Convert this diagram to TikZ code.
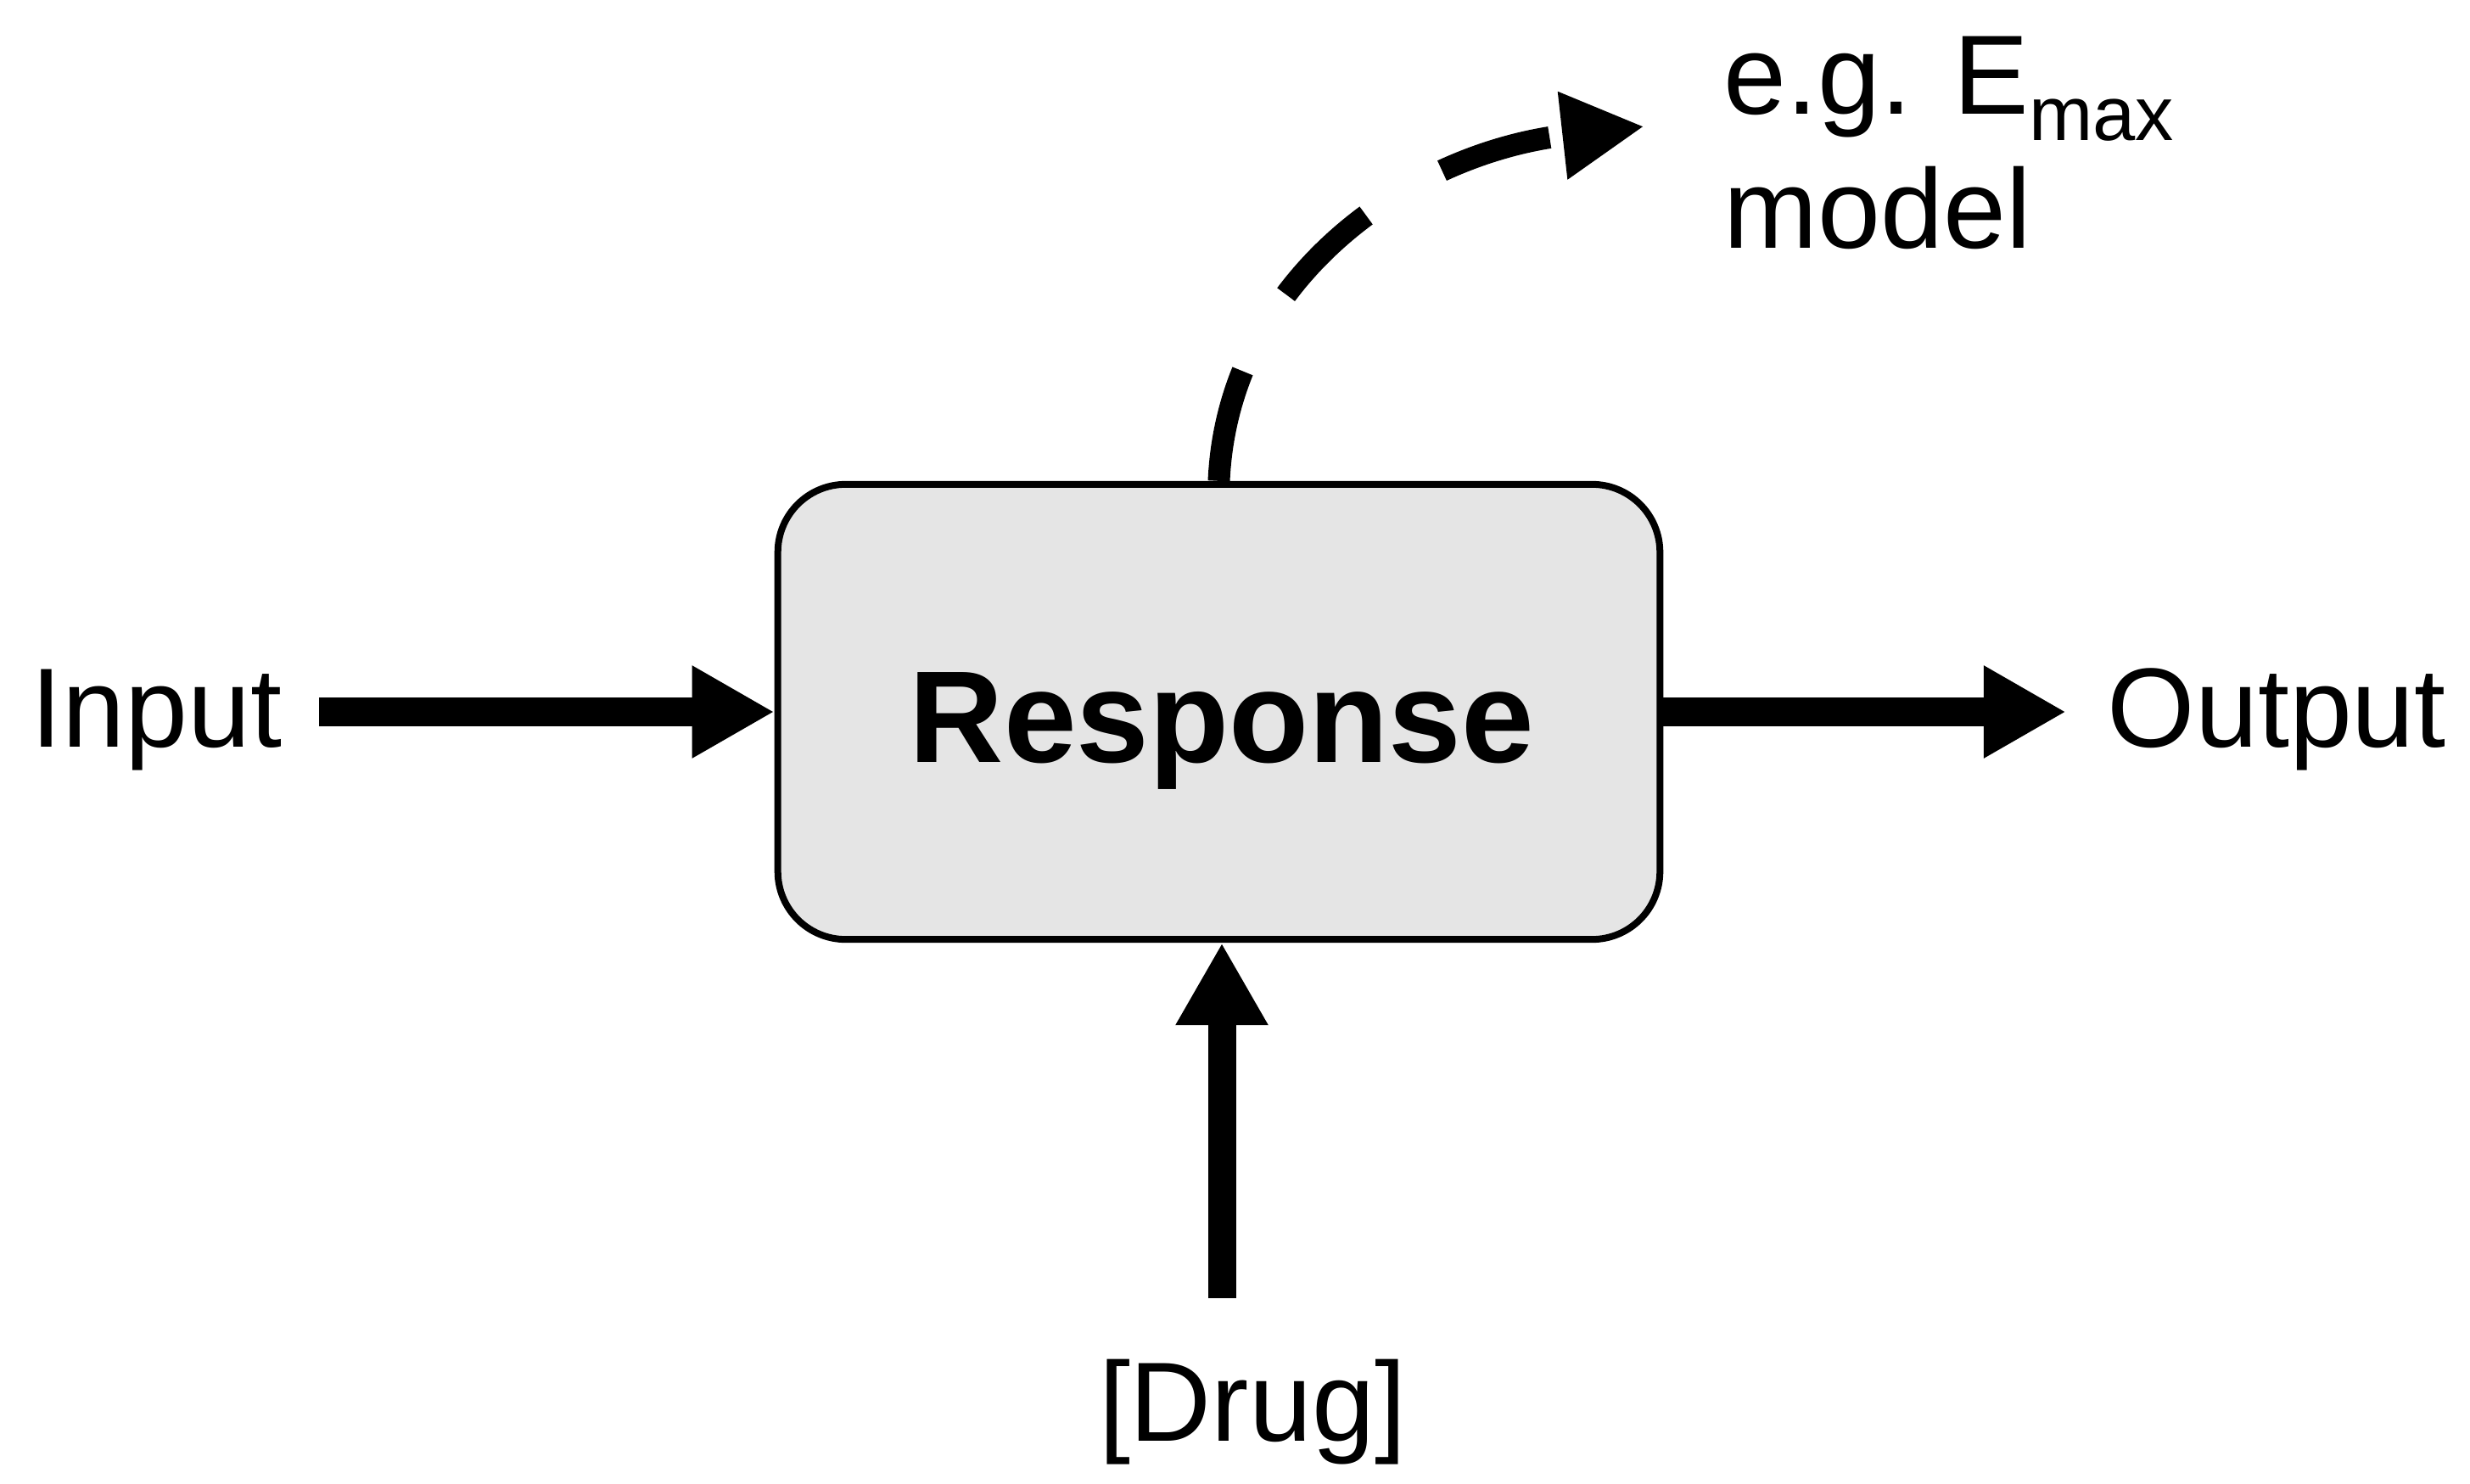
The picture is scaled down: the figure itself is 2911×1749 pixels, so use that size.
\documentclass[tikz,border=0pt]{standalone}
\usepackage{fontspec}
\setmainfont{Liberation Sans}
\usetikzlibrary{arrows.meta,calc}
\begin{document}
\begin{tikzpicture}[x=0.01cm,y=-0.01cm,
  lbl/.style={inner sep=0pt, font=\fontsize{37.8pt}{45pt}\selectfont},
  resplbl/.style={inner sep=0pt, font=\fontsize{43.8pt}{52pt}\selectfont\bfseries},
  box/.style={draw=black, line width=0.08cm, fill=black!10, rounded corners=0.8cm,
    minimum width=10.39cm, minimum height=5.36cm, inner sep=0pt},
  bigarrow/.style={line width=0.33cm, -{Triangle[length=0.97cm,width=1.02cm]}},
  dasharrow/.style={line width=0.26cm, dash pattern=on 1.33cm off 1.04cm,
    -{Triangle[length=0.97cm,width=0.97cm]}}
]
\useasboundingbox (0,0) rectangle (2911,1749);
\node[box] (resp) at (1436.5,839) {};
\node[resplbl, anchor=base] (rlabel) at (1440,898) {Response};
\node[lbl, anchor=base west] (in) at (36,880) {Input};
\node[lbl, anchor=base west] (out) at (2483,880) {Output};
\node[lbl, anchor=base] (drug) at (1476,1698) {[Drug]};
\node[lbl, anchor=base west] (emax) at (2031,135) {e.g. E\raisebox{-0.30cm}{\fontsize{25.7pt}{30pt}\selectfont max}};
\node[lbl, anchor=base west] (model) at (2031,293) {model};
\coordinate (inS) at (376,839);
\coordinate (outT) at (2435,839);
\coordinate (drugS) at (1440,1530);
\coordinate (emaxT) at (1938,149);
\draw[bigarrow] (inS) -- (resp.west);
\draw[bigarrow] (resp.east) -- (outT);
\draw[bigarrow] (drugS) -- (drugS |- resp.south);
\draw[dasharrow] (resp.north) .. controls (1447,330) and (1660,180) .. (emaxT);
\end{tikzpicture}
\end{document}
